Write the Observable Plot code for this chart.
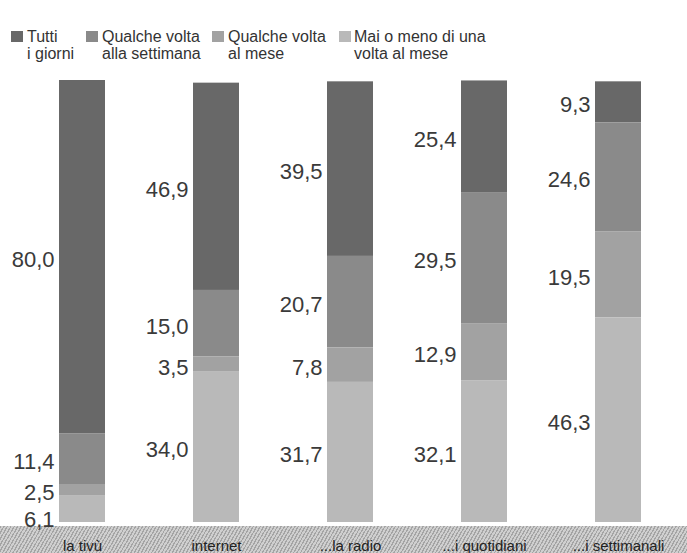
<!DOCTYPE html>
<html>
<head>
<meta charset="utf-8">
<script src="https://cdn.jsdelivr.net/npm/d3@7"></script>
<script src="https://cdn.jsdelivr.net/npm/@observablehq/plot@0.6"></script>
<style>
html, body { margin: 0; padding: 0; background: #fff; }
#wrap { position: relative; width: 687px; height: 553px; overflow: hidden;
  font-family: "Liberation Sans", Arial, Helvetica, sans-serif; color: #333; }
#legend { position: absolute; left: 0; top: 0; width: 687px; height: 72px; }
.item { position: absolute; top: 28px; font-size: 16px; line-height: 17px; }
.sw { position: absolute; left: 0; top: 3px; width: 12px; height: 11px; }
.txt { position: absolute; white-space: nowrap; }
#band { position: absolute; left: 0; top: 526px; width: 687px; height: 27px;
  background: repeating-linear-gradient(120deg, #a4a4a4 0px, #a4a4a4 1.2px, #cfcfcf 1.2px, #cfcfcf 3px); }
#chart { position: absolute; left: 0; top: 72px; }
</style>
</head>
<body>
<div id="wrap">
  <div id="legend"></div>
  <div id="band"></div>
  <div id="chart"></div>
</div>
<script>
// ---- data ----
const categories = ["la tivù", "internet", "...la radio", "...i quotidiani", "...i settimanali"];
const series = ["Tutti i giorni", "Qualche volta alla settimana", "Qualche volta al mese", "Mai o meno di una volta al mese"];
const legendLabels = [["Tutti", "i giorni"], ["Qualche volta", "alla settimana"], ["Qualche volta", "al mese"], ["Mai o meno di una", "volta al mese"]];
const tuttiGiorni = [80.0, 46.9, 39.5, 25.4, 9.3];
const allaSettimana = [11.4, 15.0, 20.7, 29.5, 24.6];
const alMese = [2.5, 3.5, 7.8, 12.9, 19.5];
const maiOMeno = [6.1, 34.0, 31.7, 32.1, 46.3];

// ---- styles ----
const colors = ["#686868", "#8a8a8a", "#a2a2a2", "#b9b9b9"];
const legendX = [11, 86, 212, 339];
const legendTextOffset = [16, 16, 16, 15];
const font = '"Liberation Sans", Arial, Helvetica, sans-serif';

const rows = [];
[tuttiGiorni, allaSettimana, alMese, maiOMeno].forEach((vals, i) =>
  vals.forEach((v, j) => rows.push({category: categories[j], series: series[i], value: v})));
const stackOrder = series.slice().reverse();
const fmt = v => d3.format(".1f")(v).replace(".", ",");
// a thin bottom segment's label is pushed down to clear the label above it
const crowdedBottom = d => d.series === stackOrder[0] && d.value < 10;

// legend
const legend = document.getElementById("legend");
series.forEach((s, i) => {
  const item = document.createElement("div");
  item.className = "item";
  item.style.left = legendX[i] + "px";
  const sw = document.createElement("div");
  sw.className = "sw";
  sw.style.background = colors[i];
  const txt = document.createElement("div");
  txt.className = "txt";
  txt.style.left = legendTextOffset[i] + "px";
  txt.innerHTML = legendLabels[i].join("<br>");
  item.appendChild(sw);
  item.appendChild(txt);
  legend.appendChild(item);
});

const textOpts = (show, dy) => Plot.stackY({
  x: "category", y: "value", z: "series", order: stackOrder,
  text: d => show(d) ? fmt(d.value) : null, textAnchor: "end", dx: -28, dy,
  fontSize: 22, fill: "#3a3a3a"
});

const chart = Plot.plot({
  width: 687,
  height: 481,
  marginTop: 8,
  marginBottom: 31,
  marginLeft: 20,
  marginRight: 7,
  style: {fontFamily: font, fontSize: "15px", color: "#222", background: "transparent", overflow: "visible"},
  x: {domain: categories, paddingInner: 0.66, paddingOuter: 0.29, label: null, tickSize: 0, tickPadding: 18},
  y: {domain: [0, 100], axis: null},
  color: {domain: series, range: colors},
  marks: [
    Plot.barY(rows, Plot.stackY({x: "category", y: "value", fill: "series", order: stackOrder})),
    Plot.text(rows, textOpts(d => !crowdedBottom(d), 3)),
    Plot.text(rows, textOpts(crowdedBottom, 11))
  ]
});
document.getElementById("chart").appendChild(chart);
</script>
</body>
</html>
